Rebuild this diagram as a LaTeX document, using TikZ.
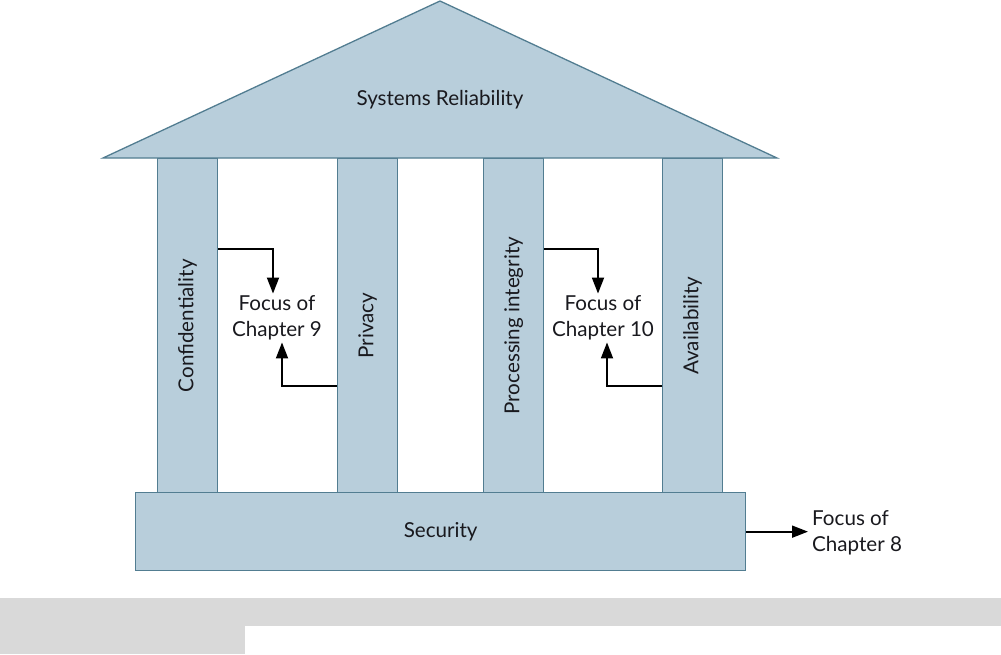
\documentclass[tikz,border=0pt]{standalone}
\usepackage{fontspec}
\setmainfont{Lato}
\usetikzlibrary{arrows.meta}
\definecolor{pfill}{RGB}{184,206,219}
\definecolor{pedge}{RGB}{82,125,145}
\definecolor{band}{RGB}{217,217,217}
\definecolor{ink}{RGB}{25,25,30}
\begin{document}
\begin{tikzpicture}[x=1pt,y=-1pt,
  part/.style={fill=pfill,draw=pedge,line width=1.3pt},
  lbl/.style={font=\fontsize{20.6}{26}\selectfont,text=ink},
  pillar/.style={part,lbl,minimum width=60pt,minimum height=334pt,inner sep=0pt,anchor=north west},
  focus/.style={lbl,align=center,inner sep=2pt},
  conn/.style={line width=1.8pt,draw=black,-{Triangle[length=16pt,width=12pt]}}]
\useasboundingbox (0,0) rectangle (1001,654);
\fill[band] (0,598) rectangle (1001,654);
\fill[white] (245,626) rectangle (1001,654);
% pillars
\node[pillar] (conf) at (157,158) {\rotatebox{90}{Confidentiality}};
\node[pillar] (priv) at (337,158) {\rotatebox{90}{Privacy}};
\node[pillar] (proc) at (483,158) {\rotatebox{90}{Processing integrity}};
\node[pillar] (avail) at (662,158) {\rotatebox{90}{Availability}};
% roof
\coordinate (apex) at (440,1);
\coordinate (rl) at (103,158);
\coordinate (rr) at (777,158);
\draw[part,line join=miter] (rl) -- (apex) -- (rr) -- cycle;
\node[lbl] (sr) at (440,100) {Systems Reliability};
% base
\node[part,lbl,minimum width=610pt,minimum height=78pt,inner sep=0pt,anchor=north west] (sec) at (135,492) {Security};
% focus texts
\node[focus] (f9) at (277,318) {Focus of\\Chapter 9};
\node[focus] (f10) at (603,318) {Focus of\\Chapter 10};
\node[focus,align=left,anchor=west,inner sep=4pt] (f8) at (808,533) {Focus of\\Chapter 8};
% connectors
\draw[conn] (conf.east |- 0,249) -| ([xshift=-4pt]f9.north);
\draw[conn] (priv.west |- 0,386) -| ([xshift=5pt]f9.south);
\draw[conn] (proc.east |- 0,249) -| ([xshift=-5pt]f10.north);
\draw[conn] (avail.west |- 0,386) -| ([xshift=4pt]f10.south);
\draw[conn] (sec.east) -- (sec.east -| f8.west);
\end{tikzpicture}
\end{document}
